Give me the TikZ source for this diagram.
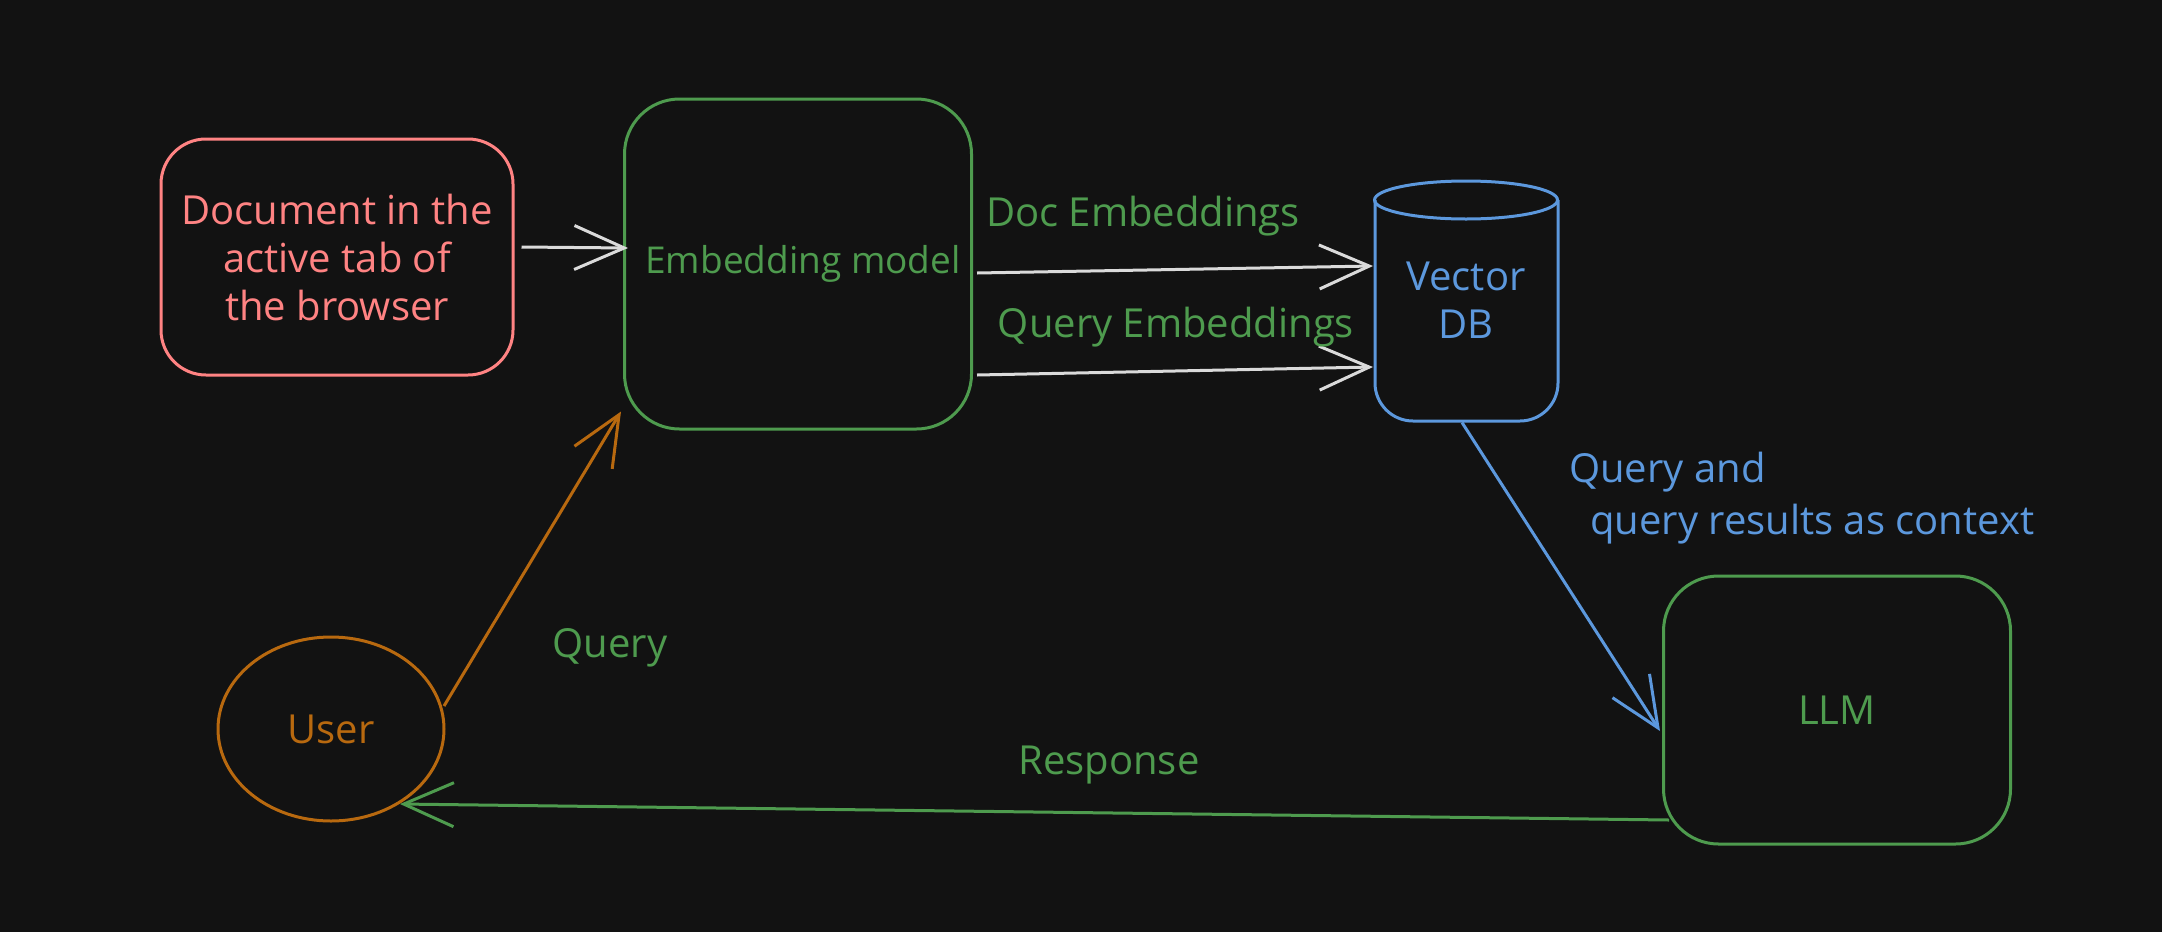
\documentclass[tikz,border=0pt]{standalone}
\usepackage{fontspec}
\setmainfont{Open Sans}
\usetikzlibrary{shapes.geometric,arrows.meta}
\definecolor{bg}{HTML}{121212}
\definecolor{cred}{HTML}{FF8383}
\definecolor{cgreen}{HTML}{4E9B4E}
\definecolor{cblue}{HTML}{5C98DD}
\definecolor{corange}{HTML}{B8690F}
\definecolor{cwhite}{HTML}{DADADA}
\tikzset{
  box/.style={draw, line width=3pt, align=center, inner sep=0pt},
  txt/.style={font=\fontsize{40}{48}\selectfont},
  lbl/.style={font=\fontsize{40}{52}\selectfont, align=center, inner sep=0pt},
  arr/.style={line width=3pt, -{Straight Barb[length=50pt,width=44pt,line width=3pt]}},
}
\begin{document}
\begin{tikzpicture}[x=1pt,y=-1pt]
\fill[bg] (0,0) rectangle (2162,932);
\useasboundingbox (0,0) rectangle (2162,932);

\node[box, txt, draw=cred, text=cred, rounded corners=45pt, minimum width=352pt, minimum height=236pt] (doc) at (337,257) {Document in the\\active tab of\\the browser};
\node[box, font=\fontsize{37}{48}\selectfont, draw=cgreen, text=cgreen, rounded corners=55pt, minimum width=347pt, minimum height=330pt] (emb) at (798,264) {\hspace*{10pt}Embedding model};
\node[box, txt, draw=none, text=cblue, minimum width=183pt, minimum height=242pt] (vdb) at (1466,300) {Vector\\DB};
\draw[cblue, line width=3pt, rounded corners=38pt] (1375,200) -- (1375,421) -- (1558,421) -- (1558,200);
\draw[cblue, line width=3pt] (1466,200) ellipse[x radius=91.5, y radius=19];
\node[box, txt, draw=cgreen, text=cgreen, rounded corners=55pt, minimum width=347pt, minimum height=268pt] (llm) at (1837,710) {LLM};
\node[box, txt, ellipse, draw=corange, text=corange, minimum width=226pt, minimum height=184pt] (user) at (331,729) {User};

\draw[arr, cwhite] ([xshift=7pt,yshift=10pt]doc.east) -- ([xshift=5pt,yshift=16pt]emb.west);
\draw[arr, cwhite] ([xshift=4pt,yshift=-9pt]emb.east) -- ([yshift=34pt]vdb.west);
\draw[arr, cwhite] ([xshift=4pt,yshift=-111pt]emb.east) -- ([yshift=-67pt]vdb.west);
\draw[arr, corange] ([xshift=113pt,yshift=23pt]user.center) -- ([xshift=-2pt,yshift=19pt]emb.south west);
\draw[arr, cblue] ([xshift=-4pt]vdb.south) -- ([xshift=-2pt,yshift=-21pt]llm.west);
\draw[arr, cgreen] ([xshift=7pt,yshift=-110pt]llm.west) -- ([xshift=69pt,yshift=-75pt]user.center);

\node[lbl, text=cgreen] (ldoc) at (1143,216) {Doc Embeddings};
\node[lbl, text=cgreen] (lqe) at (1176,327) {Query Embeddings};
\node[lbl, text=cgreen] (lq) at (610,648) {Query};
\node[lbl, text=cgreen] (lresp) at (1109,765) {Response};
\node[lbl, text=cblue, align=left, anchor=north west] (lctx) at (1569,452) {Query and\\\hspace*{21pt}query results as context};
\end{tikzpicture}
\end{document}
